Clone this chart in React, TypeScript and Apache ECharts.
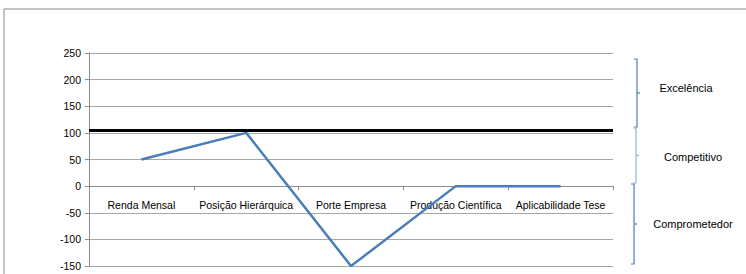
import React, { useEffect, useRef } from "react";
import * as echarts from "echarts";

const categories = ["Renda Mensal", "Posição Hierárquica", "Porte Empresa", "Produção Científica", "Aplicabilidade Tese"];
const values = [50, 100, -150, 0, 0];
const thresholdValue = 104;
const yTicks = { min: -150, max: 250, interval: 50 };
const zoneLabels = ["Excelência", "Competitivo", "Comprometedor"];

const FONT = "Liberation Sans";

export default function App() {
  const ref = useRef<HTMLDivElement>(null);
  useEffect(() => {
    document.body.style.margin = "0";
    const chart = echarts.init(ref.current!, null, { renderer: "svg" });
    const brace = (x: number, y1: number, y2: number, color: string) => {
      const mid = (y1 + y2) / 2;
      return [
        { type: "polyline", shape: { points: [[x - 3, y1], [x, y1], [x, y2], [x - 3, y2]] }, style: { stroke: color, lineWidth: 1.2, fill: null } },
        { type: "line", shape: { x1: x, y1: mid, x2: x + 3, y2: mid }, style: { stroke: color, lineWidth: 1.2 } },
      ];
    };
    chart.setOption({
      animation: false,
      backgroundColor: "#ffffff",
      grid: { left: 89, right: 133, top: 53, bottom: 8, containLabel: false, outerBoundsMode: "none" },
      xAxis: {
        type: "category",
        data: categories,
        boundaryGap: true,
        axisLine: { onZero: true, lineStyle: { color: "#8c8c8c", width: 1 } },
        axisTick: { show: true, length: 4, lineStyle: { color: "#8c8c8c" } },
        axisLabel: { color: "#000", fontFamily: FONT, fontSize: 10.5, margin: -67, interval: 0 },
        splitLine: { show: false },
      },
      yAxis: {
        type: "value",
        min: yTicks.min,
        max: yTicks.max,
        interval: yTicks.interval,
        axisLine: { show: true, lineStyle: { color: "#8c8c8c", width: 1 } },
        axisTick: { show: true, length: 4, lineStyle: { color: "#8c8c8c" } },
        axisLabel: { color: "#000", fontFamily: FONT, fontSize: 10.5, margin: 8 },
        splitLine: { show: true, lineStyle: { color: "#a6a6a6", width: 1 } },
      },
      series: [
        {
          type: "line",
          data: values,
          symbol: "none",
          lineStyle: { color: "#4a7ebb", width: 2.5 },
          markLine: {
            silent: true,
            symbol: "none",
            label: { show: false },
            lineStyle: { color: "#000", width: 3, type: "solid" },
            data: [{ yAxis: thresholdValue }],
          },
          z: 3,
        },
      ],
      graphic: [
        { type: "polyline", shape: { points: [[4, 290], [4, 9], [760, 9]] }, style: { stroke: "#888", lineWidth: 1, fill: null } },
        ...brace(637, 59, 127, "#4a7ebb"),
        ...brace(636, 128, 183, "#95b3d7"),
        ...brace(634, 184, 264, "#4a7ebb"),
        { type: "text", x: 686, y: 88, style: { text: zoneLabels[0], fontFamily: FONT, fontSize: 11, fill: "#000", align: "center", verticalAlign: "middle" } },
        { type: "text", x: 693, y: 157, style: { text: zoneLabels[1], fontFamily: FONT, fontSize: 11, fill: "#000", align: "center", verticalAlign: "middle" } },
        { type: "text", x: 693, y: 224, style: { text: zoneLabels[2], fontFamily: FONT, fontSize: 11, fill: "#000", align: "center", verticalAlign: "middle" } },
      ],
    });
    return () => chart.dispose();
  }, []);
  return <div ref={ref} style={{ width: 746, height: 274 }} />;
}
